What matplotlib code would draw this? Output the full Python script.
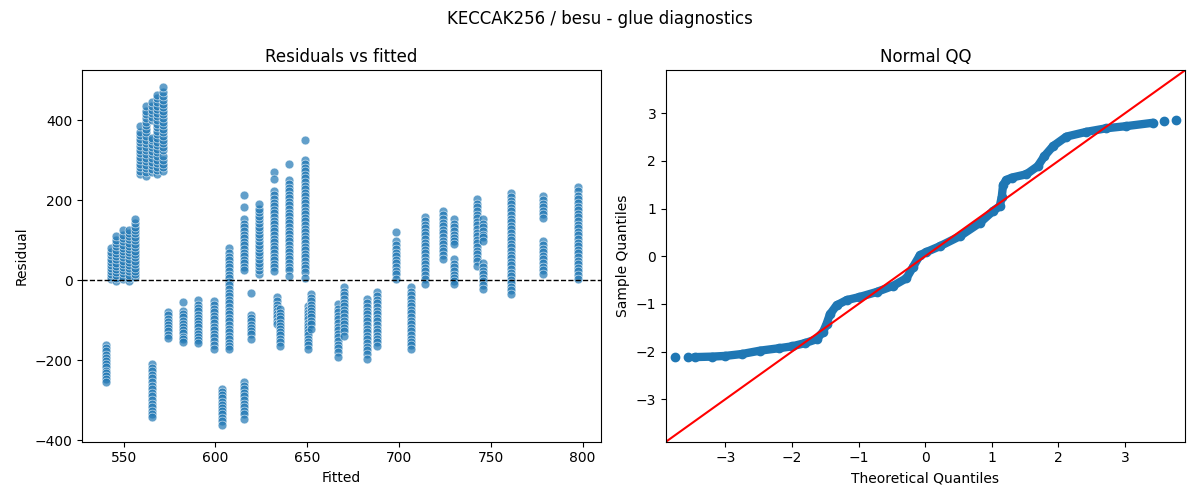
import matplotlib
matplotlib.use("Agg")
import matplotlib.pyplot as plt
import numpy as np

# ---------------- Residuals vs fitted: one column per fitted value ----------------
FITTED = [540.2, 542.8, 546.0, 549.6, 552.9, 556.0,
          558.7, 562.4, 565.5, 568.3, 571.4, 565.5,
          574.0, 582.1, 590.3, 599.2, 603.5, 607.3,
          615.5, 619.1, 623.7, 631.8, 633.4, 634.9,
          640.0, 648.7, 650.3, 652.2, 666.7, 670.0,
          682.5, 687.9, 698.5, 706.4, 714.0, 724.2,
          729.8, 742.3, 745.6, 761.1, 778.6, 797.3]

RESIDUALS = [
    [-162, -170, -178, -186, -194, -202, -210, -218, -226, -233, -241, -248, -256],
    [2, 8, 15, 22, 30, 38, 46, 54, 62, 70, 80],
    [-2, 5, 12, 20, 28, 36, 44, 52, 60, 68, 76, 85, 93, 101, 110],
    [2, 9, 17, 25, 33, 41, 49, 57, 65, 73, 81, 89, 97, 105, 113, 125],
    [-2, 6, 14, 22, 30, 38, 46, 54, 62, 70, 78, 86, 94, 102, 110, 118, 125],
    [7, 15, 23, 31, 40, 48, 57, 65, 74, 82, 91, 100, 108, 117, 125, 134, 142, 152],
    [266, 274, 283, 291, 300, 309, 318, 327, 336, 345, 354, 363, 372, 385],
    [262, 271, 280, 289, 298, 307, 316, 325, 334, 343, 352, 361, 370, 379, 388, 397, 406, 415, 424, 435],
    [270, 279, 288, 297, 306, 315, 324, 333, 342, 350, 355, 400, 409, 418, 427, 436, 446],
    [266, 275, 284, 293, 302, 311, 320, 329, 338, 347, 356, 365, 374, 383, 392, 401, 410, 419, 428, 437, 446, 455, 464],
    [274, 283, 292, 301, 310, 325, 334, 343, 352, 361, 370, 379, 388, 397, 406, 415, 424, 433, 442, 451, 460, 471, 483],
    [-210, -219, -228, -237, -246, -255, -264, -273, -282, -291, -300, -309, -318, -327, -335, -342],
    [-80, -88, -96, -104, -112, -120, -128, -136, -145],
    [-55, -77, -85, -93, -101, -109, -117, -125, -133, -141, -148, -154],
    [-50, -62, -70, -78, -86, -94, -102, -110, -118, -126, -134, -142, -150, -158],
    [-53, -62, -71, -80, -89, -98, -107, -116, -125, -134, -143, -152, -161, -172],
    [-272, -280, -288, -296, -304, -312, -320, -328, -336, -344, -352, -362],
    [80, 68, 59, 50, 41, 32, 23, 14, 5, -4, -13, -22, -31, -40, -49, -58, -67, -76, -85, -94,
     -103, -112, -121, -130, -139, -148, -157, -165, -172],
    [214, 184, 152, 141, 132, 123, 114, 105, 96, 87, 78, 69, 60, 51, 42, 33, 25,
     -255, -264, -273, -282, -291, -300, -309, -318, -327, -336, -348],
    [-32, -87, -95, -103, -111, -119, -127, -135, -147],
    [15, 26, 35, 44, 53, 62, 71, 80, 89, 98, 107, 116, 125, 134, 143, 152, 161, 170, 179, 190],
    [270, 254, 223, 212, 203, 194, 185, 176, 167, 158, 149, 140, 131, 122, 113, 104, 95, 86, 77, 68,
     59, 50, 41, 33, 22],
    [-43, -53, -61, -69, -77, -85, -93, -101, -110],
    [-72, -82, -90, -98, -106, -114, -122, -130, -138, -146, -154, -164],
    [291, 252, 241, 232, 223, 214, 205, 196, 187, 178, 169, 160, 151, 142, 133, 124, 115, 106, 97, 88,
     79, 70, 61, 52, 43, 34, 25, 10],
    [352, 302, 291, 282, 273, 264, 255, 246, 237, 228, 219, 210, 201, 192, 183, 174, 165, 156, 147, 138,
     129, 120, 111, 102, 93, 84, 75, 66, 57, 48, 39, 30, 21, 6],
    [-64, -74, -82, -90, -98, -106, -114, -122, -130, -138, -146, -154, -162, -172],
    [-35, -45, -53, -61, -69, -77, -85, -93, -101, -109, -122],
    [-60, -71, -80, -89, -98, -107, -116, -125, -134, -143, -152, -161, -170, -179, -193],
    [-18, -29, -38, -47, -56, -65, -74, -83, -92, -101, -110, -119, -128, -139],
    [-47, -58, -67, -76, -85, -94, -103, -112, -121, -130, -139, -148, -157, -166, -175, -185, -197],
    [-29, -40, -49, -58, -67, -76, -85, -94, -103, -112, -121, -130, -139, -148, -155, -164],
    [120, 98, 87, 78, 69, 60, 51, 42, 33, 24, 15, 2],
    [-18, -29, -38, -47, -56, -65, -74, -83, -92, -101, -110, -119, -128, -137, -146, -155, -163, -172],
    [159, 148, 139, 130, 121, 112, 103, 94, 85, 76, 67, 58, 49, 40, 31, 22, 13, 4, -10],
    [173, 162, 153, 144, 135, 126, 117, 108, 99, 90, 81, 72, 63, 52],
    [152, 141, 132, 123, 114, 105, 98, 90, 52, 41, 32, 23, 14, 5, -3, -10],
    [202, 191, 182, 173, 164, 155, 146, 137, 128, 119, 110, 101, 92, 83, 74, 65, 56, 47, 35],
    [152, 141, 132, 123, 114, 107, 98, 44, 33, 24, 15, 6, -3, -12, -22],
    [219, 208, 199, 190, 181, 172, 163, 154, 145, 136, 127, 118, 109, 100, 91, 82, 73, 64, 55, 46,
     37, 28, 19, 10, 1, -8, -17, -25, -35],
    [211, 200, 191, 182, 173, 165, 156, 99, 88, 79, 70, 61, 52, 43, 34, 25, 15],
    [234, 222, 211, 202, 193, 184, 175, 166, 157, 148, 139, 130, 121, 112, 103, 94, 85, 76, 67, 58,
     49, 40, 31, 22, 13, 3],
]

# ---------------- Normal QQ (standardised residuals) ----------------
QQ_THEORETICAL = [-3.46, -3.20, -3.00, -2.75, -2.48, -2.20, -2.00, -1.80, -1.63, -1.53,
                  -1.48, -1.43, -1.33, -1.18, -1.00, -0.73, -0.48, -0.28, -0.18, -0.08,
                  0.02, 0.22, 0.52, 0.82, 1.02, 1.12, 1.15, 1.17, 1.22, 1.30,
                  1.52, 1.69, 1.79, 1.92, 2.12, 2.42, 2.72, 3.02, 3.42]
QQ_SAMPLE = [-2.115, -2.105, -2.09, -2.05, -1.98, -1.93, -1.89, -1.82, -1.74, -1.58,
             -1.42, -1.22, -1.03, -0.92, -0.86, -0.75, -0.62, -0.46, -0.22, 0.02,
             0.09, 0.21, 0.42, 0.70, 0.95, 1.05, 1.25, 1.50, 1.60, 1.65,
             1.72, 1.89, 2.10, 2.31, 2.51, 2.61, 2.685, 2.73, 2.80]
QQ_TAIL_THEORETICAL = [-3.75, -3.56, 3.58, 3.76]
QQ_TAIL_SAMPLE = [-2.116, -2.12, 2.84, 2.85]

BLUE = "#1f77b4"

fig, (ax1, ax2) = plt.subplots(1, 2, figsize=(12, 5), dpi=100)

xs = np.concatenate([np.full(len(r), f) for f, r in zip(FITTED, RESIDUALS)])
ys = np.concatenate([np.asarray(r, dtype=float) for r in RESIDUALS])
ax1.scatter(xs, ys, s=40, color=BLUE, alpha=0.7, edgecolors="white", linewidths=0.5)
ax1.axhline(0, color="black", linestyle="--", linewidth=1)
ax1.set_title("Residuals vs fitted")
ax1.set_xlabel("Fitted")
ax1.set_ylabel("Residual")

ax2.plot(QQ_THEORETICAL, QQ_SAMPLE, color=BLUE, linewidth=6, marker="o", markersize=6,
         solid_capstyle="round", solid_joinstyle="round")
ax2.plot(QQ_TAIL_THEORETICAL, QQ_TAIL_SAMPLE, linestyle="none", marker="o", markersize=6,
         color=BLUE)
ax2.set_xlim(-3.89, 3.90)
ax2.set_ylim(-3.89, 3.90)
ax2.axline((0, 0), slope=1, color="red", linewidth=1.5)
ax2.set_title("Normal QQ")
ax2.set_xlabel("Theoretical Quantiles")
ax2.set_ylabel("Sample Quantiles")

fig.suptitle("KECCAK256 / besu - glue diagnostics")
fig.tight_layout()
fig.savefig("out.png", dpi=100)
